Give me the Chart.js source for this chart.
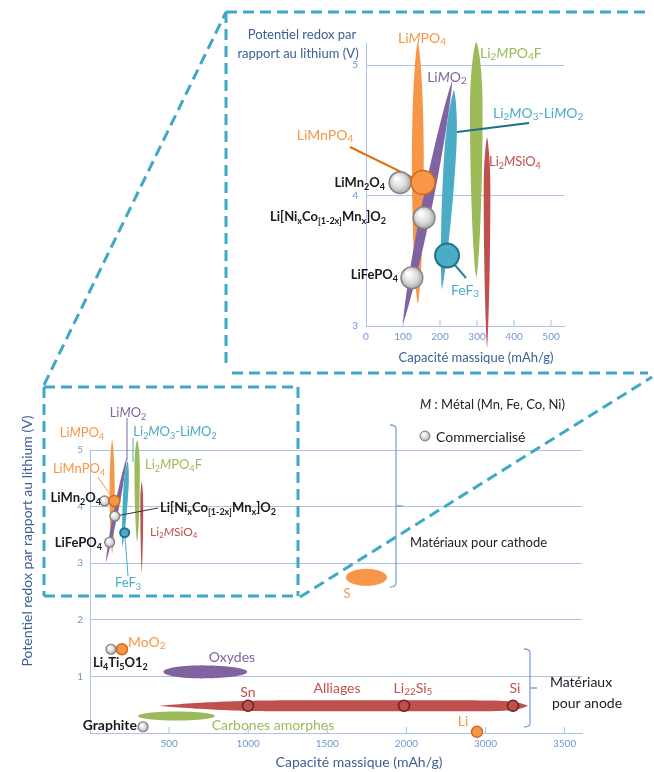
<!DOCTYPE html>
<html>
<head>
<meta charset="utf-8">
<script src="https://cdn.jsdelivr.net/npm/chart.js@4.4.0/dist/chart.umd.min.js"></script>
<style>
html, body { margin: 0; padding: 0; background: #fff; }
#wrap { position: relative; width: 654px; height: 772px; overflow: hidden; }
#main, #inset { position: absolute; left: 0; top: 0; }
</style>
</head>
<body>
<div id="wrap">
  <canvas id="main" width="654" height="772"></canvas>
  <canvas id="inset" width="654" height="380"></canvas>
</div>
<script>
// ---- data ----
// cathode families (capacity mAh/g, potential V), low-potential end -> high-potential end
const cathodeNames   = ['LiMPO4', 'LiMO2', 'Li2MO3-LiMO2', 'Li2MPO4F', 'Li2MSiO4'];
const cathodeCapLow  = [140, 100, 205, 298, 327];
const cathodeCapHigh = [140, 233, 238, 298, 327];
const cathodeVLow    = [3.17, 3.02, 3.28, 3.37, 2.83];
const cathodeVHigh   = [5.18, 4.88, 4.81, 5.18, 4.45];
const cathodeSpread  = [16, 14, 16, 17, 9];      // half width, mAh/g

// anode (and S) families: capacity range at a given potential
const anodeNames   = ['S', 'Oxydes', 'Alliages', 'Carbones amorphes'];
const anodeCapLow  = [1618, 463, 436, 303];
const anodeCapHigh = [1877, 994, 2769, 790];
const anodeV       = [2.75, 1.08, 0.48, 0.30];
const anodeSpread  = [0.15, 0.115, 0.097, 0.08]; // half height, V

// single materials
const commNames = ['LiMn2O4', 'Li[NixCo(1-2x)Mnx]O2', 'LiFePO4', 'Li4Ti5O12', 'Graphite'];
const commCap   = [92, 157, 124, 133, 335];
const commV     = [4.10, 3.83, 3.37, 1.48, 0.11];

const orangeNames = ['LiMnPO4', 'MoO2', 'Li'];
const orangeCap   = [154, 202, 2446];
const orangeV     = [4.10, 1.48, 0.02];

const fef3Cap = [219];
const fef3V   = [3.54];

const alloyNames = ['Sn', 'Li22Si5', 'Si'];
const alloyCap   = [999, 1985, 2674];
const alloyV     = [0.48, 0.48, 0.48];

// axes
const mainXTicks = [500, 1000, 1500, 2000, 2500, 3000];
const mainXTickLabels = ['500', '1000', '1500', '2000', '3000', '3500'];
const mainYTicks = [1, 2, 3, 4, 5];
const insetXTicks = [0, 100, 200, 300, 400, 500];
const insetYTicks = [3, 4, 5];

// ---- styles ----
const FONT = 'Lato, "Open Sans", sans-serif';
const ORANGE = '#f79646', PURPLE = '#8064a2', CYAN = '#4bacc6', GREEN = '#9bbb59', RED = '#c0504d';
const DARK = '#1a1a1a', AXIS = '#a9c2e6', TICK = '#6f97d3', TITLE = '#3d6094';
const BOX = '#3fa9c5';

const cathodeStyle = [
  { color: ORANGE, peak: 0.55, kA: 2, kB: 2, e: 0.7 },
  { color: PURPLE, peak: 0.5, kA: 2, kB: 2, e: 0.8 },
  { color: CYAN, peak: 0.68, kA: 2, kB: 2, e: 0.8 },
  { color: GREEN, peak: 0.72, kA: 2, kB: 2, e: 0.7 },
  { color: RED, peak: 0.75, kA: 2, kB: 2, e: 0.8 }
];
const anodeStyle = [
  { color: ORANGE, peak: 0.5, kA: 2, kB: 2, e: 0.5 },
  { color: PURPLE, peak: 0.45, kA: 2, kB: 2, e: 0.5 },
  { color: RED, peak: 0.355, kA: 2.15, kB: 21, e: 1 },
  { color: GREEN, peak: 0.5, kA: 2, kB: 2, e: 0.5 }
];

// rich text: *italic*, _{subscript}
function drawRich(ctx, str, x, y, o) {
  const size = o.size || 13;
  const weight = o.bold ? 'bold ' : '';
  const segs = [];
  let i = 0, it = false, buf = '';
  const flush = () => { if (buf) { segs.push({ t: buf, sub: false, it }); buf = ''; } };
  while (i < str.length) {
    const c = str[i];
    if (c === '*') { flush(); it = !it; i++; }
    else if (c === '_' && str[i + 1] === '{') {
      flush();
      const j = str.indexOf('}', i);
      segs.push({ t: str.slice(i + 2, j), sub: true, it });
      i = j + 1;
    } else { buf += c; i++; }
  }
  flush();
  const fontOf = s => (s.it ? 'italic ' : '') + weight + (s.sub ? Math.round(size * 0.7) : size) + 'px ' + FONT;
  let w = 0;
  segs.forEach(s => { ctx.font = fontOf(s); s.w = ctx.measureText(s.t).width; w += s.w; });
  let cx = o.align === 'right' ? x - w : o.align === 'left' ? x : x - w / 2;
  ctx.save();
  ctx.fillStyle = o.color || DARK;
  ctx.textBaseline = 'middle';
  ctx.textAlign = 'left';
  segs.forEach(s => {
    ctx.font = fontOf(s);
    ctx.fillText(s.t, cx, y + (s.sub ? size * 0.3 : 0));
    cx += s.w;
  });
  ctx.restore();
}

// lens / ellipse between two tips, drawn through the chart scales
function drawShape(ctx, xs, ys, a, b, spread, horiz, st) {
  const ax = xs.getPixelForValue(a[0]), ay = ys.getPixelForValue(a[1]);
  const bx = xs.getPixelForValue(b[0]), by = ys.getPixelForValue(b[1]);
  const w = horiz ? Math.abs(ys.getPixelForValue(a[1] + spread) - ay)
                  : Math.abs(xs.getPixelForValue(a[0] + spread) - ax);
  const dx = bx - ax, dy = by - ay, len = Math.hypot(dx, dy);
  const nx = -dy / len, ny = dx / len;
  const N = 90, side1 = [], side2 = [];
  for (let i = 0; i <= N; i++) {
    const s = i / N, p = st.peak;
    let u, k;
    if (s < p) { u = (p - s) / p; k = st.kA; } else { u = (s - p) / (1 - p); k = st.kB; }
    const h = w * Math.pow(Math.max(0, 1 - Math.pow(u, k)), st.e);
    const px = ax + dx * s, py = ay + dy * s;
    side1.push([px + nx * h, py + ny * h]);
    side2.push([px - nx * h, py - ny * h]);
  }
  ctx.beginPath();
  side1.forEach((p, i) => i ? ctx.lineTo(p[0], p[1]) : ctx.moveTo(p[0], p[1]));
  for (let i = side2.length - 1; i >= 0; i--) ctx.lineTo(side2[i][0], side2[i][1]);
  ctx.closePath();
  ctx.fillStyle = st.color;
  ctx.fill();
}

function line(ctx, x1, y1, x2, y2, color, width, dash) {
  ctx.save();
  ctx.strokeStyle = color;
  ctx.lineWidth = width;
  ctx.setLineDash(dash || []);
  ctx.beginPath();
  ctx.moveTo(x1, y1);
  ctx.lineTo(x2, y2);
  ctx.stroke();
  ctx.restore();
}

function greyFill(c, r) {
  const chart = c.chart;
  if (!c.parsed || !chart.scales.x) return '#d0d0d0';
  const px = chart.scales.x.getPixelForValue(c.parsed.x);
  const py = chart.scales.y.getPixelForValue(c.parsed.y);
  if (!isFinite(px) || !isFinite(py)) return '#d0d0d0';
  const g = chart.ctx.createRadialGradient(px - r * 0.35, py - r * 0.4, r * 0.1, px, py, r);
  g.addColorStop(0, '#ffffff');
  g.addColorStop(0.6, '#dcdcdc');
  g.addColorStop(1, '#a6a6a6');
  return g;
}

function pts(caps, vs, keep) {
  return caps.map((x, i) => ({ x, y: vs[i] })).filter(p => !keep || keep(p));
}

function circleSets(rGrey, rOrange, rTeal, rRed, keep) {
  return [
    { data: pts(orangeCap, orangeV, keep), pointRadius: rOrange, backgroundColor: ORANGE,
      borderColor: '#d2691e', borderWidth: 1.5 },
    { data: pts(commCap, commV, keep), pointRadius: rGrey, backgroundColor: c => greyFill(c, rGrey),
      borderColor: '#7f7f7f', borderWidth: 1.2 },
    { data: pts(fef3Cap, fef3V, keep), pointRadius: rTeal, backgroundColor: CYAN,
      borderColor: '#1f7189', borderWidth: 2 },
    { data: pts(alloyCap, alloyV, keep), pointRadius: rRed, backgroundColor: RED,
      borderColor: '#632523', borderWidth: 1.5 }
  ].map(d => Object.assign(d, { showLine: false, clip: false, pointHoverRadius: d.pointRadius }));
}

function drawCathodes(chart) {
  const ctx = chart.ctx, xs = chart.scales.x, ys = chart.scales.y;
  cathodeNames.forEach((n, i) => {
    drawShape(ctx, xs, ys, [cathodeCapLow[i], cathodeVLow[i]], [cathodeCapHigh[i], cathodeVHigh[i]],
      cathodeSpread[i], false, cathodeStyle[i]);
  });
}

function inwardTicks(chart, values) {
  const ctx = chart.ctx, xs = chart.scales.x, b = chart.chartArea.bottom;
  values.forEach(v => line(ctx, xs.getPixelForValue(v), b, xs.getPixelForValue(v), b - 6, AXIS, 1));
}

// ---- main chart ----
const mainLabels = [
  ['Li*M*O_{2}', 128, 413, { color: PURPLE, size: 13 }],
  ['Li*M*PO_{4}', 82, 433, { color: ORANGE, size: 13 }],
  ['Li_{2}*M*O_{3}-Li*M*O_{2}', 175, 432, { color: CYAN, size: 13 }],
  ['LiMnPO_{4}', 79, 469, { color: ORANGE, size: 13 }],
  ['Li_{2}*M*PO_{4}F', 145, 465, { color: GREEN, size: 13, align: 'left' }],
  ['LiMn_{2}O_{4}', 101, 498, { bold: true, size: 13, align: 'right' }],
  ['Li[Ni_{x}Co_{[1-2x]}Mn_{x}]O_{2}', 160, 508, { bold: true, size: 13, align: 'left' }],
  ['Li_{2}*M*SiO_{4}', 150, 532, { color: RED, size: 12, align: 'left' }],
  ['LiFePO_{4}', 102, 543, { bold: true, size: 13, align: 'right' }],
  ['FeF_{3}', 128, 583, { color: CYAN, size: 13 }],
  ['*M* : Métal (Mn, Fe, Co, Ni)', 420, 405, { size: 13, align: 'left', color: '#222' }],
  ['Commercialisé', 436, 437, { size: 14, align: 'left', color: '#222' }],
  ['Matériaux pour cathode', 410, 543, { size: 13, align: 'left', color: '#222' }],
  ['S', 347, 594, { color: ORANGE, size: 13 }],
  ['MoO_{2}', 128, 642, { color: ORANGE, size: 14, align: 'left' }],
  ['Li_{4}Ti_{5}O1_{2}', 93, 663, { bold: true, size: 13, align: 'left' }],
  ['Oxydes', 232, 657, { color: PURPLE, size: 14 }],
  ['Sn', 248, 692, { color: RED, size: 14 }],
  ['Alliages', 337, 688, { color: RED, size: 14 }],
  ['Li_{22}Si_{5}', 413, 688, { color: RED, size: 14 }],
  ['Si', 515, 688, { color: RED, size: 14 }],
  ['Carbones amorphes', 273, 725, { color: GREEN, size: 14 }],
  ['Graphite', 137, 725, { bold: true, size: 14, align: 'right' }],
  ['Li', 463, 721, { color: ORANGE, size: 14 }],
  ['Matériaux', 581, 682, { size: 14, color: '#222' }],
  ['pour anode', 587, 703, { size: 14, color: '#222' }],
  ['Capacité massique (mAh/g)', 359, 762, { size: 14, color: TITLE }]
];

function bracket(ctx, x, top, bottom, mid, stub, notch) {
  ctx.save();
  ctx.strokeStyle = '#7ea3dc';
  ctx.lineWidth = 1.3;
  ctx.beginPath();
  ctx.moveTo(x - stub, top);
  ctx.quadraticCurveTo(x, top, x, top + 4);
  ctx.lineTo(x, bottom - 4);
  ctx.quadraticCurveTo(x, bottom, x - stub, bottom);
  ctx.moveTo(x, mid);
  ctx.lineTo(x + notch, mid);
  ctx.stroke();
  ctx.restore();
}

const mainPlugin = {
  id: 'mainDecor',
  beforeDatasetsDraw(chart) {
    const ctx = chart.ctx, xs = chart.scales.x, ys = chart.scales.y;
    inwardTicks(chart, mainXTicks);
    anodeNames.forEach((n, i) => {
      drawShape(ctx, xs, ys, [anodeCapLow[i], anodeV[i]], [anodeCapHigh[i], anodeV[i]],
        anodeSpread[i], true, anodeStyle[i]);
    });
    drawCathodes(chart);
    const P = (x, y) => [xs.getPixelForValue(x), ys.getPixelForValue(y)];
    // leader lines
    line(ctx, 127, 418, 127, 460, PURPLE, 1);
    line(ctx, 133, 438, 133, 462, CYAN, 1);
    const fe = P(fef3Cap[0], fef3V[0]);
    line(ctx, fe[0], fe[1], 128, 576, CYAN, 1);
    const mn = P(orangeCap[0], orangeV[0]);
    line(ctx, 98, 477, mn[0], mn[1], ORANGE, 1);
    const nc = P(commCap[1], commV[1]);
    line(ctx, 158, 508, nc[0], nc[1], '#333', 1);
  },
  afterDraw(chart) {
    const ctx = chart.ctx;
    mainLabels.forEach(l => drawRich(ctx, l[0], l[1], l[2], l[3]));
    // rotated y title
    ctx.save();
    ctx.translate(27, 541);
    ctx.rotate(-Math.PI / 2);
    drawRich(ctx, 'Potentiel redox par rapport au lithium (V)', 0, 0, { size: 14, color: TITLE });
    ctx.restore();
    // legend marker
    ctx.save();
    const g = ctx.createRadialGradient(423, 434, 0.5, 425, 436, 5);
    g.addColorStop(0, '#fff'); g.addColorStop(0.6, '#dcdcdc'); g.addColorStop(1, '#a6a6a6');
    ctx.fillStyle = g; ctx.strokeStyle = '#7f7f7f'; ctx.lineWidth = 1;
    ctx.beginPath(); ctx.arc(425, 436, 5, 0, Math.PI * 2); ctx.fill(); ctx.stroke();
    ctx.restore();
    bracket(ctx, 396, 425, 587, 506, 6, 7);
    bracket(ctx, 530, 649, 727, 688, 6, 7);
    // zoom boxes
    const d = [11, 6];
    ctx.save();
    ctx.lineCap = 'butt';
    line(ctx, 44, 387, 298, 387, BOX, 3, d);
    line(ctx, 44, 387, 44, 596, BOX, 3, d);
    line(ctx, 44, 596, 298, 596, BOX, 3, d);
    line(ctx, 298, 387, 298, 596, BOX, 3, d);
    line(ctx, 226, 12, 650, 12, BOX, 3, d);
    line(ctx, 226, 12, 226, 368, BOX, 3, d);
    line(ctx, 232, 373, 648, 373, BOX, 3, d);
    line(ctx, 44, 385, 226, 12, BOX, 3, d);
    line(ctx, 300, 597, 652, 377, BOX, 3, d);
    ctx.restore();
  }
};

new Chart(document.getElementById('main'), {
  type: 'scatter',
  data: { datasets: circleSets(5, 5.5, 4.5, 5.5) },
  options: {
    responsive: false,
    animation: false,
    events: [],
    layout: { padding: { top: 450, right: 72, left: 0, bottom: 0 } },
    plugins: { legend: { display: false }, tooltip: { enabled: false } },
    scales: {
      x: {
        type: 'linear', min: 0, max: 3110,
        afterBuildTicks: s => { s.ticks = mainXTicks.map(v => ({ value: v })); },
        afterFit: s => { s.height = 39; },
        ticks: { autoSkip: false, maxRotation: 0, padding: 5, color: TICK,
          font: { family: FONT, size: 10 }, callback: (v, i) => mainXTickLabels[i] },
        grid: { display: false, drawTicks: false },
        border: { display: true, color: AXIS, width: 1 }
      },
      y: {
        type: 'linear', min: 0, max: 5,
        afterBuildTicks: s => { s.ticks = mainYTicks.map(v => ({ value: v })); },
        afterFit: s => { s.width = 90; },
        ticks: { padding: 7, color: TICK, font: { family: FONT, size: 10 } },
        grid: { color: AXIS, lineWidth: 1, drawTicks: false },
        border: { display: true, color: AXIS, width: 1 }
      }
    }
  },
  plugins: [mainPlugin]
});

// ---- inset (zoom on cathodes) ----
const insetLabels = [
  ['Li*M*PO_{4}', 422, 38, { color: ORANGE, size: 14 }],
  ['Li_{2}*M*PO_{4}F', 480, 53, { color: GREEN, size: 14, align: 'left' }],
  ['Li*M*O_{2}', 447, 77, { color: PURPLE, size: 14 }],
  ['Li_{2}*M*O_{3}-Li*M*O_{2}', 493, 113, { color: CYAN, size: 14, align: 'left' }],
  ['Li_{2}*M*SiO_{4}', 489, 162, { color: RED, size: 13, align: 'left' }],
  ['LiMnPO_{4}', 325, 135, { color: ORANGE, size: 14 }],
  ['LiMn_{2}O_{4}', 385, 183, { bold: true, size: 13, align: 'right' }],
  ['Li[Ni_{x}Co_{[1-2x]}Mn_{x}]O_{2}', 270, 217, { bold: true, size: 13, align: 'left' }],
  ['LiFePO_{4}', 398, 275, { bold: true, size: 13, align: 'right' }],
  ['FeF_{3}', 465, 290, { color: CYAN, size: 14 }],
  ['Potentiel redox par', 302, 35, { size: 13, color: TITLE }],
  ['rapport au lithium (V)', 298, 54, { size: 13, color: TITLE }],
  ['Capacité massique (mAh/g)', 476, 358, { size: 13, color: TITLE }]
];

const insetPlugin = {
  id: 'insetDecor',
  beforeDatasetsDraw(chart) {
    const ctx = chart.ctx, xs = chart.scales.x, ys = chart.scales.y;
    inwardTicks(chart, insetXTicks.slice(1));
    drawCathodes(chart);
    const P = (x, y) => [xs.getPixelForValue(x), ys.getPixelForValue(y)];
    const mn = P(orangeCap[0], orangeV[0]);
    line(ctx, 350, 147, mn[0], mn[1], '#e46c0a', 2);
    line(ctx, 457, 132, 529, 123, '#1f6f86', 2);
    const fe = P(fef3Cap[0], fef3V[0]);
    line(ctx, fe[0], fe[1], 466, 278, '#2a7f98', 2);
  },
  afterDraw(chart) {
    insetLabels.forEach(l => drawRich(chart.ctx, l[0], l[1], l[2], l[3]));
  }
};

new Chart(document.getElementById('inset'), {
  type: 'scatter',
  data: { datasets: circleSets(11, 12, 12, 11, p => p.y > 2.8 && p.x < 540) },
  options: {
    responsive: false,
    animation: false,
    events: [],
    layout: { padding: { top: 43, right: 90, left: 0, bottom: 0 } },
    plugins: { legend: { display: false }, tooltip: { enabled: false } },
    scales: {
      x: {
        type: 'linear', min: 0, max: 535,
        afterBuildTicks: s => { s.ticks = insetXTicks.map(v => ({ value: v })); },
        afterFit: s => { s.height = 54; },
        ticks: { autoSkip: false, maxRotation: 0, padding: 5, color: TICK, font: { family: FONT, size: 10 } },
        grid: { display: false, drawTicks: false },
        border: { display: true, color: AXIS, width: 1 }
      },
      y: {
        type: 'linear', min: 3, max: 5.17,
        afterBuildTicks: s => { s.ticks = insetYTicks.map(v => ({ value: v })); },
        afterFit: s => { s.width = 366; },
        ticks: { padding: 8, color: TICK, font: { family: FONT, size: 10 } },
        grid: { color: c => c.tick && c.tick.value === 3 ? 'rgba(0,0,0,0)' : AXIS, lineWidth: 1, drawTicks: false },
        border: { display: true, color: AXIS, width: 1 }
      }
    }
  },
  plugins: [insetPlugin]
});
</script>
</body>
</html>
